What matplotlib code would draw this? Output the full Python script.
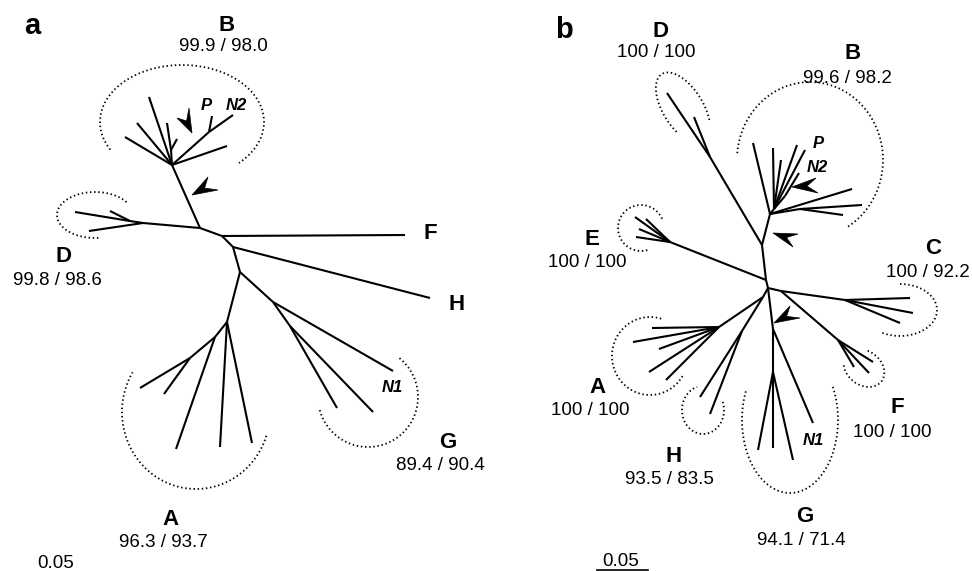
import numpy as np
import matplotlib
matplotlib.use("Agg")
import matplotlib.pyplot as plt
from matplotlib.patches import Polygon

plt.rcParams['font.family'] = ['Liberation Sans', 'DejaVu Sans']

# ---------------- panel a: node layout (pixel space) ----------------
a_nodes = {
    'root': (200, 228), 'Bn': (172, 165), 'Bs': (171, 150),
    'B1': (125, 137), 'B2': (137, 123), 'B3': (149, 97),
    'B4': (167, 123), 'B5': (177, 139),
    'Bp': (209, 132), 'N2': (233, 115), 'P': (212, 116), 'B6': (227, 146),
    'Dn': (143, 223), 'Dm': (130, 221),
    'D1': (75, 212), 'D2': (89, 231), 'D3': (110, 211),
    'Fn': (222, 236), 'F': (405, 235),
    'Hn': (233, 247), 'H': (430, 298),
    'An0': (240, 272), 'An': (227, 322), 'Am': (215, 337), 'Al': (190, 358),
    'A1': (140, 388), 'A2': (164, 394), 'A3': (176, 449),
    'A4': (220, 447), 'A5': (252, 443),
    'Gn': (273, 302), 'N1': (393, 371), 'Gm': (290, 326),
    'G1': (337, 408), 'G2': (373, 412),
}
a_edges = [
    ('root', 'Bn'), ('Bn', 'B1'), ('Bn', 'B2'), ('Bn', 'B3'), ('Bn', 'Bs'),
    ('Bs', 'B4'), ('Bs', 'B5'), ('Bn', 'Bp'), ('Bp', 'N2'), ('Bp', 'P'),
    ('Bn', 'B6'),
    ('root', 'Dn'), ('Dn', 'Dm'), ('Dm', 'D1'), ('Dm', 'D3'), ('Dn', 'D2'),
    ('root', 'Fn'), ('Fn', 'F'), ('Fn', 'Hn'), ('Hn', 'H'), ('Hn', 'An0'),
    ('An0', 'An'), ('An', 'Am'), ('Am', 'Al'), ('Al', 'A1'), ('Al', 'A2'),
    ('Am', 'A3'), ('An', 'A4'), ('An', 'A5'),
    ('An0', 'Gn'), ('Gn', 'N1'), ('Gn', 'Gm'), ('Gm', 'G1'), ('Gm', 'G2'),
]
# clade outlines: centre x, centre y, semi-axis a, semi-axis b, rotation, start, end (deg)
a_arcs = [
    (182, 122, 82, 57, 0, 151, 406),
    (95, 215, 38, 23, 0, 85, 329),
    (196, 412, 74, 77, 0, 18, 211),
    (368, 397, 50, 50, 0, -51, 168),
]
# arrows: tip, wing, wing
a_arrows = [
    ((192, 195), (208, 177), (218, 190)),
    ((192, 133), (177, 118), (189, 108)),
]
a_clades = ['B', 'D', 'F', 'H', 'G', 'A']
a_support = ['99.9 / 98.0', '99.8 / 98.6', '', '', '89.4 / 90.4', '96.3 / 93.7']
a_clade_xy = [(227, 30.7), (63, 261.7), (430, 239), (457, 310), (448, 448), (170, 525)]
a_support_xy = [(223, 50.7), (57, 285), None, None, (440, 470), (163, 546.7)]
a_taxa = ['P', 'N2', 'N1']
a_taxa_xy = [(206, 110), (236, 110), (392, 391.7)]

# ---------------- panel b: node layout (pixel space) ----------------
b_nodes = {
    'R1': (762, 245), 'R2': (766, 280), 'R3': (768, 288),
    'Dn': (710, 157), 'D1': (667, 93), 'D2': (694, 117),
    'Bn': (770, 214), 'B1': (753, 143), 'Bs': (774, 209),
    'B2': (773, 148), 'B3': (781, 160), 'B4': (797, 145), 'P': (805, 150),
    'Bq': (785, 196), 'N2': (799, 173),
    'B5': (852, 189), 'Bt': (800, 209), 'B6': (862, 205), 'B7': (843, 215),
    'En': (670, 242), 'E1': (635, 217), 'E2': (646, 219),
    'E3': (639, 229), 'E4': (636, 237),
    'CF': (781, 291), 'Cn': (845, 300),
    'C1': (910, 298), 'C2': (913, 313), 'C3': (900, 323),
    'Fn': (838, 340), 'F1': (873, 362), 'F2': (869, 373), 'F3': (854, 367),
    'AH': (763, 297), 'An': (719, 327),
    'A1': (652, 328), 'A2': (633, 342), 'A3': (659, 349),
    'A4': (649, 372), 'A5': (666, 380),
    'Hn': (742, 331), 'H1': (700, 397), 'H2': (710, 414),
    'Ga': (773, 329), 'N1': (813, 423), 'Gb': (773, 372),
    'G1': (758, 450), 'G2': (773, 448), 'G3': (793, 460),
}
b_edges = [
    ('R1', 'R2'), ('R1', 'Dn'), ('Dn', 'D1'), ('Dn', 'D2'),
    ('R1', 'Bn'), ('Bn', 'B1'), ('Bn', 'Bs'), ('Bs', 'B2'), ('Bs', 'B3'),
    ('Bs', 'B4'), ('Bs', 'P'), ('Bs', 'Bq'), ('Bq', 'N2'),
    ('Bn', 'B5'), ('Bn', 'Bt'), ('Bt', 'B6'), ('Bt', 'B7'),
    ('R2', 'En'), ('En', 'E1'), ('En', 'E2'), ('En', 'E3'), ('En', 'E4'),
    ('R2', 'R3'), ('R3', 'CF'), ('CF', 'Cn'),
    ('Cn', 'C1'), ('Cn', 'C2'), ('Cn', 'C3'),
    ('CF', 'Fn'), ('Fn', 'F1'), ('Fn', 'F2'), ('Fn', 'F3'),
    ('R3', 'AH'), ('AH', 'An'), ('An', 'A1'), ('An', 'A2'), ('An', 'A3'),
    ('An', 'A4'), ('An', 'A5'), ('AH', 'Hn'), ('Hn', 'H1'), ('Hn', 'H2'),
    ('R3', 'Ga'), ('Ga', 'N1'), ('Ga', 'Gb'),
    ('Gb', 'G1'), ('Gb', 'G2'), ('Gb', 'G3'),
]
b_arcs = [
    (683, 108, 40, 20, 238, -115, 130),
    (810, 160, 73, 78, 0, 185, 419),
    (641, 228, 23, 23, 0, 74, 343),
    (900, 310, 37, 26, 0, -90, 120),
    (864, 368, 22, 17, 37, -110, 150),
    (650, 356, 38, 39, 0, 31, 290),
    (703, 410, 21, 24, 0, -20, 254),
    (790, 420, 48, 73, 0, -27, 204),
]
b_arrows = [
    ((792, 187), (816, 178), (818, 193)),
    ((773, 233), (798, 234), (793, 247)),
    ((774, 323), (790, 306), (800, 318)),
]
b_clades = ['D', 'B', 'E', 'C', 'A', 'H', 'G', 'F']
b_support = ['100 / 100', '99.6 / 98.2', '100 / 100', '100 / 92.2',
             '100 / 100', '93.5 / 83.5', '94.1 / 71.4', '100 / 100']
b_clade_xy = [(660, 36.7), (853, 59), (592, 245), (933, 253.5),
              (597, 393.3), (674, 461.7), (805, 521.7), (897, 412.7)]
b_support_xy = [(656, 57.3), (847, 82.7), (587, 267.3), (928, 276.7),
                (590, 415), (669, 484), (801, 545), (892, 437.3)]
b_taxa = ['P', 'N2', 'N1']
b_taxa_xy = [(818, 148.3), (817, 171.7), (813, 445)]

panel_labels = ['a', 'b']
panel_xy = [(32.5, 34.3), (563.5, 38.3)]
scale_label = '0.05'
scale_xy = [(56, 568), (621, 566)]


def draw_tree(ax, nodes, edges):
    for p, c in edges:
        (x0, y0), (x1, y1) = nodes[p], nodes[c]
        ax.plot([x0, x1], [y0, y1], color='black', lw=1.5,
                solid_capstyle='butt')


def draw_arc(ax, cx, cy, a, b, rot, t0, t1):
    t = np.radians(np.linspace(t0, t1, 300))
    u, v = a * np.cos(t), b * np.sin(t)
    r = np.radians(rot)
    x = cx + u * np.cos(r) - v * np.sin(r)
    y = cy + u * np.sin(r) + v * np.cos(r)
    ax.plot(x, y, color='black', lw=1.3, linestyle=(0, (0.8, 1.5)))


def draw_arrow(ax, tip, w1, w2):
    tip, w1, w2 = np.array(tip), np.array(w1), np.array(w2)
    notch = tip + 0.6 * ((w1 + w2) / 2 - tip)
    ax.add_patch(Polygon([tip, w1, notch, w2], closed=True,
                         facecolor='black', edgecolor='black', lw=0.5))


fig = plt.figure(figsize=(9.72, 5.71), dpi=100)
ax = fig.add_axes([0, 0, 1, 1])
ax.set_xlim(0, 972)
ax.set_ylim(571, 0)
ax.axis('off')

for nodes, edges, arcs, arrows in [(a_nodes, a_edges, a_arcs, a_arrows),
                                   (b_nodes, b_edges, b_arcs, b_arrows)]:
    draw_tree(ax, nodes, edges)
    for arc in arcs:
        draw_arc(ax, *arc)
    for arr in arrows:
        draw_arrow(ax, *arr)

for clades, support, cxy, sxy in [(a_clades, a_support, a_clade_xy, a_support_xy),
                                  (b_clades, b_support, b_clade_xy, b_support_xy)]:
    for name, sup, pc, ps in zip(clades, support, cxy, sxy):
        ax.text(pc[0], pc[1], name, fontsize=16, fontweight='bold',
                ha='center', va='baseline')
        if ps is not None:
            ax.text(ps[0], ps[1], sup, fontsize=13.5, ha='center', va='baseline')

for taxa, txy in [(a_taxa, a_taxa_xy), (b_taxa, b_taxa_xy)]:
    for name, p in zip(taxa, txy):
        ax.text(p[0], p[1], name, fontsize=12, fontweight='bold',
                fontstyle='italic', ha='center', va='baseline')

for lab, p in zip(panel_labels, panel_xy):
    ax.text(p[0], p[1], lab, fontsize=21, fontweight='bold',
            ha='center', va='baseline')

for p in scale_xy:
    ax.text(p[0], p[1], scale_label, fontsize=13.5, ha='center', va='baseline')
ax.plot([597, 648], [569.5, 569.5], color='black', lw=1.2)

fig.savefig('out.png', dpi=100)
